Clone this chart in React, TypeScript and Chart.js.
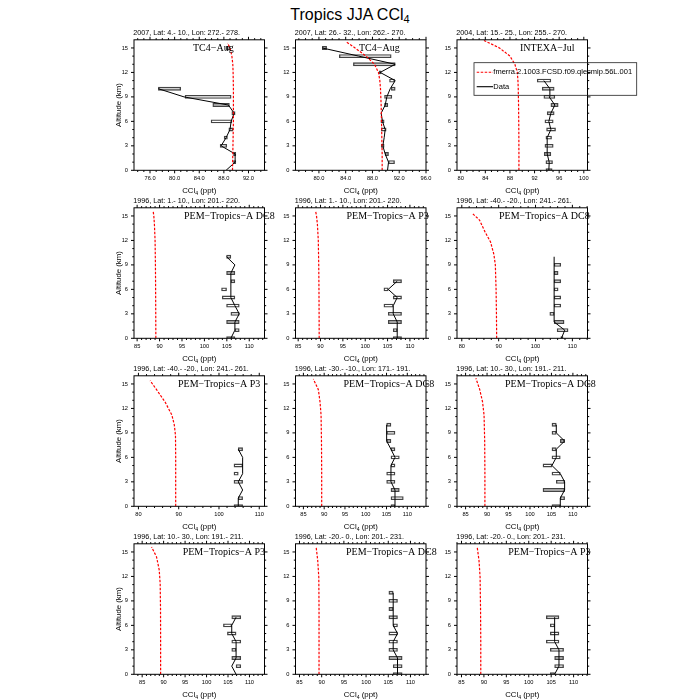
import React, { useEffect, useRef } from 'react';
import { Chart, registerables } from 'chart.js';
Chart.register(...registerables);

// ---------------- data ----------------
const OBS_ALT = [0, 1, 2, 3, 4, 5, 6, 7, 8, 9, 10, 11, 12, 13, 14, 15];
const Y_TICKS = [0, 3, 6, 9, 12, 15];
const SERIES_NAMES = ['fmerra.2.1003.FCSD.f09.qlecmip.56L.001', 'Data'];

const p1Obs = [88.36, 89.83, 89.83, 87.55, 88.36, 89.0, 89.18, 89.67, 88.74, 81.53, 77.36, null, null, null, null, 88.74];
const p1Lo = [null, 89.56, 89.56, 87.39, 88.04, 88.8, 85.92, 89.29, 86.2, 81.69, 77.36, null, null, null, null, 88.36];
const p1Hi = [null, 89.94, 89.94, 88.47, 88.58, 89.45, 89.29, 89.83, 88.9, 89.18, 80.99, null, null, null, null, 89.0];
const p1ModAlt = [0, 2, 4, 6, 8, 10, 12, 13, 14, 15, 15.6];
const p1Mod = [89.4, 89.45, 89.5, 89.55, 89.55, 89.55, 89.5, 89.45, 89.3, 89.0, 88.6];

const p2Obs = [90.25, 90.4, 89.9, 89.55, 89.75, 89.9, 89.5, 89.3, 89.9, 90.15, 90.65, 91.4, 89.15, 91.4, 85.95, 80.5];
const p2Lo = [null, 90.4, 89.9, 89.3, null, 89.3, 89.25, null, 89.8, 89.8, 90.8, 90.55, 89.0, 85.15, 83.05, 80.5];
const p2Hi = [null, 91.3, 90.4, 89.75, null, 90.05, 89.75, null, 90.3, 90.9, 91.4, 91.3, 89.3, 91.4, 90.8, 81.15];
const p2ModAlt = [0, 2, 4, 6, 8, 10, 11, 12, 13, 14, 15, 15.7];
const p2Mod = [89.45, 89.45, 89.4, 89.35, 89.3, 89.2, 89.1, 88.9, 88.3, 87.05, 85.4, 84.15];

const p3Obs = [94.32, 94.38, 94.05, 94.05, 94.05, 94.65, 94.32, 94.65, 95.3, 94.38, 94.49, 93.51];
const p3Lo = [93.84, 93.84, 93.57, 93.68, 93.84, 93.95, 93.68, 94.05, 94.65, 93.51, 93.24, 92.43];
const p3Hi = [94.86, 94.92, 94.65, 95.03, 94.76, 95.41, 95.03, 95.19, 95.84, 95.3, 95.19, 94.65];
const p3ModAlt = [0, 2, 4, 6, 8, 10, 11, 12, 13, 14, 15, 15.95];
const p3Mod = [89.46, 89.46, 89.45, 89.43, 89.4, 89.35, 89.3, 89.2, 88.8, 88.0, 86.3, 83.7];

const p4Obs = [105.9, 106.8, 106.8, 107.77, 106.8, 105.9, 105.9, 105.9, 105.9, 106.8, 104.94];
const p4Lo = [104.94, 106.8, 104.94, 105.9, 104.94, 103.97, 103.82, 105.9, 104.94, null, 104.94];
const p4Hi = [106.8, 107.77, 107.77, 107.77, 107.77, 106.8, 104.94, 106.8, 106.8, null, 105.9];
const p4ModAlt = [0, 3, 6, 9, 12, 14, 15, 15.6];
const p4Mod = [89.17, 89.15, 89.12, 89.08, 89.0, 88.85, 88.72, 88.57];

const p5Obs = [107.16, 107.16, 107.16, 106.27, 106.27, 107.16, 105.15, 107.16];
const p5Lo = [106.27, 106.27, 105.15, 105.15, 104.18, 106.27, 104.18, 106.27];
const p5Hi = [108.13, 107.16, 108.13, 108.13, 106.27, 108.13, 105.15, 108.13];
const p5ModAlt = [0, 3, 6, 9, 12, 14, 15, 15.6];
const p5Mod = [89.7, 89.68, 89.65, 89.6, 89.5, 89.3, 89.1, 88.9];

const p6Obs = [107.03, 107.93, 105.05, 105.05, 105.05, 105.05, 105.05, 105.05, 105.05, 105.05, 105.05];
const p6Lo = [106.85, 105.86, 105.05, 103.87, 105.05, 105.05, 105.05, 105.05, 105.05, 105.05, null];
const p6Hi = [107.48, 108.83, 107.75, 105.05, 106.85, 106.85, 106.13, 106.85, 106.13, 106.85, null];
const p6ModAlt = [0, 3, 6, 9, 10.3, 11.8, 13.05, 14.5, 15.3];
const p6Mod = [89.46, 89.4, 89.3, 89.1, 88.7, 87.8, 86.3, 84.8, 82.9];

const p7Obs = [104.79, 104.79, 105.87, 104.79, 105.87, 105.87, 105.87, 104.79];
const p7Lo = [103.72, 104.79, null, 103.72, 103.72, 103.72, null, 104.79];
const p7Hi = [105.87, 105.87, null, 105.87, 104.79, 105.87, null, 105.87];
const p7ModAlt = [0, 3, 6, 8.7, 10, 11.2, 12.8, 14.3, 15.4];
const p7Mod = [89.25, 89.25, 89.25, 89.2, 88.9, 88.3, 86.6, 84.5, 82.9];

const p8Obs = [107.04, 107.04, 107.04, 106.07, 106.07, 106.07, 107.04, 106.07, 105.03, 105.03, 105.03];
const p8Lo = [106.07, 106.07, 106.07, 105.03, 105.03, 106.07, 106.07, 106.07, 105.03, 105.03, 105.03];
const p8Hi = [107.04, 109.04, 108.08, 107.04, 107.04, 107.04, 108.08, 107.04, 106.07, 107.04, 106.07];
const p8ModAlt = [0, 4, 8, 11.2, 12.8, 14.3, 15.6];
const p8Mod = [89.4, 89.4, 89.35, 89.25, 89.0, 88.6, 87.4];

const p9Obs = [107.06, 107.06, 108.07, 108.07, 107.06, 105.12, 106.13, 106.13, 108.07, 106.13, 106.13];
const p9Lo = [105.12, 107.06, 103.03, 106.13, 105.12, 103.03, 105.12, 105.12, 107.06, 105.12, 105.12];
const p9Hi = [107.06, 108.07, 108.07, 108.07, 107.06, 105.12, 107.06, 106.13, 108.07, 106.13, 106.13];
const p9ModAlt = [0, 4, 8, 11.2, 12.8, 14.3, 15.7];
const p9Mod = [89.5, 89.5, 89.45, 89.3, 88.95, 88.3, 87.4];

const p10Obs = [106.88, 105.87, 106.88, 106.88, 106.88, 105.87, 105.87, 106.88];
const p10Lo = [null, 106.88, 105.87, 105.87, 105.87, 104.86, 103.93, 105.87];
const p10Hi = [null, 107.98, 107.98, 106.88, 107.98, 106.88, 105.87, 107.98];
const p10ModAlt = [0, 4, 8, 11.1, 12.8, 14.4, 15.6];
const p10Mod = [89.3, 89.3, 89.28, 89.2, 88.97, 88.35, 87.2];

const p11Obs = [107.08, 107.08, 107.08, 106.11, 106.11, 107.08, 106.11, 106.11, 106.11, 106.11, 106.11];
const p11Lo = [106.11, 106.11, 105.13, 105.13, 105.13, 105.13, 106.11, 105.13, 105.13, 105.13, 105.13];
const p11Hi = [108.13, 108.13, 108.13, 107.08, 107.08, 107.08, 107.08, 107.08, 106.11, 107.08, 106.11];
const p11ModAlt = [0, 4, 8, 11.9, 14, 15.6];
const p11Mod = [89.4, 89.4, 89.4, 89.35, 89.1, 88.75];

const p12Obs = [105.77, 106.74, 106.74, 106.74, 105.77, 105.77, 105.77, 105.77];
const p12Lo = [104.81, 105.77, 105.77, 104.81, 103.92, 104.81, 104.81, 103.92];
const p12Hi = [105.77, 107.77, 107.77, 107.77, 106.74, 106.74, 105.77, 106.74];
const p12ModAlt = [0, 4, 8, 11.9, 14, 15.6];
const p12Mod = [89.3, 89.3, 89.25, 89.15, 88.9, 88.5];

const SUBTITLES = [
  '2007, Lat: 4.- 10., Lon: 272.- 278.',
  '2007, Lat: 26.- 32., Lon: 262.- 270.',
  '2004, Lat: 15.- 25., Lon: 255.- 270.',
  '1996, Lat: 1.- 10., Lon: 201.- 220.',
  '1996, Lat: 1.- 10., Lon: 201.- 220.',
  '1996, Lat: -40.- -20., Lon: 241.- 261.',
  '1996, Lat: -40.- -20., Lon: 241.- 261.',
  '1996, Lat: -30.- -10., Lon: 171.- 191.',
  '1996, Lat: 10.- 30., Lon: 191.- 211.',
  '1996, Lat: 10.- 30., Lon: 191.- 211.',
  '1996, Lat: -20.- 0., Lon: 201.- 231.',
  '1996, Lat: -20.- 0., Lon: 201.- 231.',
];
const CAMPAIGNS = [
  'TC4\u2212Aug', 'TC4\u2212Aug', 'INTEXA\u2212Jul',
  'PEM\u2212Tropics\u2212A DC8', 'PEM\u2212Tropics\u2212A P3', 'PEM\u2212Tropics\u2212A DC8',
  'PEM\u2212Tropics\u2212A P3', 'PEM\u2212Tropics\u2212A DC8', 'PEM\u2212Tropics\u2212A DC8',
  'PEM\u2212Tropics\u2212A P3', 'PEM\u2212Tropics\u2212A DC8', 'PEM\u2212Tropics\u2212A P3',
];
const X_MIN = [73.4, 76.5, 79.4, 84.3, 84.4, 78.7, 78.9, 83.1, 83.0, 83.1, 84.1, 84.0];
const X_MAX = [94.6, 96.0, 100.6, 113.4, 113.6, 114.1, 111.3, 114.5, 113.4, 113.5, 113.5, 113.1];
const TICKS_A = [76, 80, 84, 88, 92];
const TICKS_B = [80, 84, 88, 92, 96];
const TICKS_C = [80, 84, 88, 92, 96, 100];
const TICKS_D = [85, 90, 95, 100, 105, 110];
const TICKS_E = [80, 90, 100, 110];
const X_TICKS = [TICKS_A, TICKS_B, TICKS_C, TICKS_D, TICKS_D, TICKS_E, TICKS_E, TICKS_D, TICKS_D, TICKS_D, TICKS_D, TICKS_D];
const X_MINOR = [1, 1, 1, 1, 1, 2, 2, 1, 1, 1, 1, 1];
const X_DECIMALS = [1, 1, 0, 0, 0, 0, 0, 0, 0, 0, 0, 0];

const OBS = [p1Obs, p2Obs, p3Obs, p4Obs, p5Obs, p6Obs, p7Obs, p8Obs, p9Obs, p10Obs, p11Obs, p12Obs];
const LO = [p1Lo, p2Lo, p3Lo, p4Lo, p5Lo, p6Lo, p7Lo, p8Lo, p9Lo, p10Lo, p11Lo, p12Lo];
const HI = [p1Hi, p2Hi, p3Hi, p4Hi, p5Hi, p6Hi, p7Hi, p8Hi, p9Hi, p10Hi, p11Hi, p12Hi];
const MOD_ALT = [p1ModAlt, p2ModAlt, p3ModAlt, p4ModAlt, p5ModAlt, p6ModAlt, p7ModAlt, p8ModAlt, p9ModAlt, p10ModAlt, p11ModAlt, p12ModAlt];
const MOD = [p1Mod, p2Mod, p3Mod, p4Mod, p5Mod, p6Mod, p7Mod, p8Mod, p9Mod, p10Mod, p11Mod, p12Mod];

// ---------------- layout ----------------
const COL_LEFT = [134, 295.5, 457];
const ROW_TOP = [39.8, 207.8, 375.8, 543.8];
const PLOT_W = 130.5;
const PLOT_H = 130.5;
const YW = 30;
const XH = 20;
const LABEL_DX = [59, 63.5, 63, 50, 51, 42, 44, 48, 48, 48.7, 50.5, 51.3];
const SANS = '"Liberation Sans", Arial, Helvetica, sans-serif';
const SERIF = '"Liberation Serif", "Times New Roman", serif';
const RED = '#ff0000';

function drawCCl(ctx: CanvasRenderingContext2D, cx: number, base: number, f: number) {
  const fs = f * 0.66;
  ctx.font = `${f}px ${SANS}`;
  const w1 = ctx.measureText('CCl').width;
  const w3 = ctx.measureText(' (ppt)').width;
  ctx.font = `${fs}px ${SANS}`;
  const w2 = ctx.measureText('4').width;
  const x = cx - (w1 + w2 + w3) / 2;
  ctx.textAlign = 'left';
  ctx.font = `${f}px ${SANS}`;
  ctx.fillText('CCl', x, base);
  ctx.font = `${fs}px ${SANS}`;
  ctx.fillText('4', x + w1, base + f * 0.25);
  ctx.font = `${f}px ${SANS}`;
  ctx.fillText(' (ppt)', x + w1 + w2, base);
}

function makePlugin(i: number) {
  return {
    id: 'ncl' + i,
    afterDraw(chart: any) {
      const { ctx, chartArea: a, scales } = chart;
      const xs = scales.x;
      const ys = scales.y;
      ctx.save();
      ctx.strokeStyle = '#000';
      ctx.lineWidth = 1;
      ctx.setLineDash([]);
      ctx.strokeRect(a.left, a.top, a.right - a.left, a.bottom - a.top);
      const seg = (x1: number, y1: number, x2: number, y2: number) => {
        ctx.beginPath();
        ctx.moveTo(x1, y1);
        ctx.lineTo(x2, y2);
        ctx.stroke();
      };
      const step = X_MINOR[i];
      const k0 = Math.ceil(X_MIN[i] / step);
      const k1 = Math.floor(X_MAX[i] / step);
      for (let k = k0; k <= k1; k++) {
        const v = k * step;
        const px = xs.getPixelForValue(v);
        const major = X_TICKS[i].some((t) => Math.abs(t - v) < 1e-6);
        const L = major ? 3 : 1.7;
        seg(px, a.bottom, px, a.bottom + L);
        seg(px, a.top, px, a.top - L);
      }
      for (let v = 0; v <= 15; v++) {
        const py = ys.getPixelForValue(v);
        const L = Y_TICKS.includes(v) ? 3 : 1.7;
        seg(a.left, py, a.left - L, py);
        seg(a.right, py, a.right + L, py);
      }
      ctx.fillStyle = '#000';
      ctx.textBaseline = 'alphabetic';
      ctx.textAlign = 'left';
      ctx.font = `7.2px ${SANS}`;
      ctx.fillText(SUBTITLES[i], a.left - 0.7, a.top - 4.8);
      ctx.font = `10px ${SERIF}`;
      ctx.fillText(CAMPAIGNS[i], a.left + LABEL_DX[i], a.top + 11);
      drawCCl(ctx, (a.left + a.right) / 2, a.bottom + 22.5, 7.8);
      if (i % 3 === 0) {
        ctx.save();
        ctx.translate(a.left - 13.5, (a.top + a.bottom) / 2);
        ctx.rotate(-Math.PI / 2);
        ctx.textAlign = 'center';
        ctx.font = `7.8px ${SANS}`;
        ctx.fillText('Altitude (km)', 0, 0);
        ctx.restore();
      }
      if (i === 2) {
        const bx = 474, by = 62.7, bw = 162.7, bh = 32.6;
        ctx.lineWidth = 0.8;
        ctx.strokeStyle = '#222';
        ctx.strokeRect(bx, by, bw, bh);
        const r1 = by + 9.6, r2 = by + 24;
        ctx.strokeStyle = RED;
        ctx.lineWidth = 1.1;
        ctx.setLineDash([2.5, 1.5]);
        seg(bx + 2.7, r1, bx + 19, r1);
        ctx.setLineDash([]);
        ctx.strokeStyle = '#000';
        seg(bx + 2.7, r2, bx + 19, r2);
        ctx.font = `7.5px ${SANS}`;
        ctx.textBaseline = 'middle';
        ctx.fillText(SERIES_NAMES[0], bx + 19.3, r1);
        ctx.fillText(SERIES_NAMES[1], bx + 19.3, r2);
      }
      ctx.restore();
    },
  };
}

function buildConfig(i: number): any {
  const col = i % 3;
  const row = Math.floor(i / 3);
  const left = COL_LEFT[col];
  const top = ROW_TOP[row];
  const modData = MOD_ALT[i].map((alt, k) => ({ y: alt, x: MOD[i][k] }));
  const obsData = OBS[i].map((v, k) => ({ y: OBS_ALT[k], x: v }));
  const boxData = LO[i]
    .map((lo, k) => (lo == null || HI[i][k] == null ? null : { y: OBS_ALT[k], x: [lo, HI[i][k]] }))
    .filter((d) => d !== null);
  const tickFont = { family: SANS, size: 5.7 };
  return {
    type: 'line',
    data: {
      datasets: [
        {
          type: 'line',
          label: SERIES_NAMES[0],
          data: modData,
          borderColor: RED,
          borderWidth: 1.2,
          borderDash: [2.5, 1.5],
          pointRadius: 0,
          tension: 0,
          fill: false,
        },
        {
          type: 'line',
          label: SERIES_NAMES[1],
          data: obsData,
          borderColor: '#000',
          borderWidth: 1,
          pointRadius: 0,
          tension: 0,
          fill: false,
          spanGaps: false,
        },
        {
          type: 'bar',
          label: 'spread',
          data: boxData,
          backgroundColor: 'rgba(255,255,255,0)',
          borderColor: '#444',
          borderWidth: 0.7,
          borderSkipped: false,
          barThickness: 3.2,
        },
      ],
    },
    options: {
      responsive: false,
      animation: false,
      indexAxis: 'y',
      events: [],
      layout: {
        padding: {
          left: left - YW,
          top: top,
          right: 700 - (left + PLOT_W),
          bottom: 700 - (top + PLOT_H) - XH,
        },
      },
      plugins: { legend: { display: false }, tooltip: { enabled: false }, title: { display: false } },
      scales: {
        x: {
          type: 'linear',
          position: 'bottom',
          min: X_MIN[i],
          max: X_MAX[i],
          offset: false,
          grid: { display: false, drawTicks: false },
          border: { display: false },
          ticks: {
            autoSkip: false,
            maxRotation: 0,
            minRotation: 0,
            padding: 5,
            color: '#000',
            font: tickFont,
            callback: (v: any) => Number(v).toFixed(X_DECIMALS[i]),
          },
          afterBuildTicks: (s: any) => {
            s.ticks = X_TICKS[i].map((v) => ({ value: v }));
          },
          afterFit: (s: any) => {
            s.height = XH;
          },
        },
        y: {
          type: 'linear',
          position: 'left',
          min: 0,
          max: 16,
          offset: false,
          grid: { display: false, drawTicks: false },
          border: { display: false },
          ticks: {
            autoSkip: false,
            padding: 6,
            color: '#000',
            font: tickFont,
          },
          afterBuildTicks: (s: any) => {
            s.ticks = Y_TICKS.map((v) => ({ value: v }));
          },
          afterFit: (s: any) => {
            s.width = YW;
          },
        },
      },
    },
    plugins: [makePlugin(i)],
  };
}

function Panel({ idx }: { idx: number }) {
  const ref = useRef<HTMLCanvasElement>(null);
  useEffect(() => {
    const chart = new Chart(ref.current as HTMLCanvasElement, buildConfig(idx));
    return () => chart.destroy();
  }, [idx]);
  return (
    <canvas
      ref={ref}
      width={700}
      height={700}
      style={{ position: 'absolute', left: 0, top: 0, width: 700, height: 700 }}
    />
  );
}

const PANEL_IDS = [0, 1, 2, 3, 4, 5, 6, 7, 8, 9, 10, 11];

export default function App() {
  return (
    <div style={{ position: 'absolute', left: 0, top: 0, width: 700, height: 700, background: '#fff', overflow: 'hidden' }}>
      <div
        style={{
          position: 'absolute',
          left: 0,
          top: 6.5,
          width: 700,
          textAlign: 'center',
          fontFamily: SANS,
          fontSize: 16,
          lineHeight: '16px',
          color: '#000',
        }}
      >
        Tropics JJA CCl<span style={{ fontSize: 11, position: 'relative', top: 3, lineHeight: '0px' }}>4</span>
      </div>
      {PANEL_IDS.map((i) => (
        <Panel key={i} idx={i} />
      ))}
    </div>
  );
}
